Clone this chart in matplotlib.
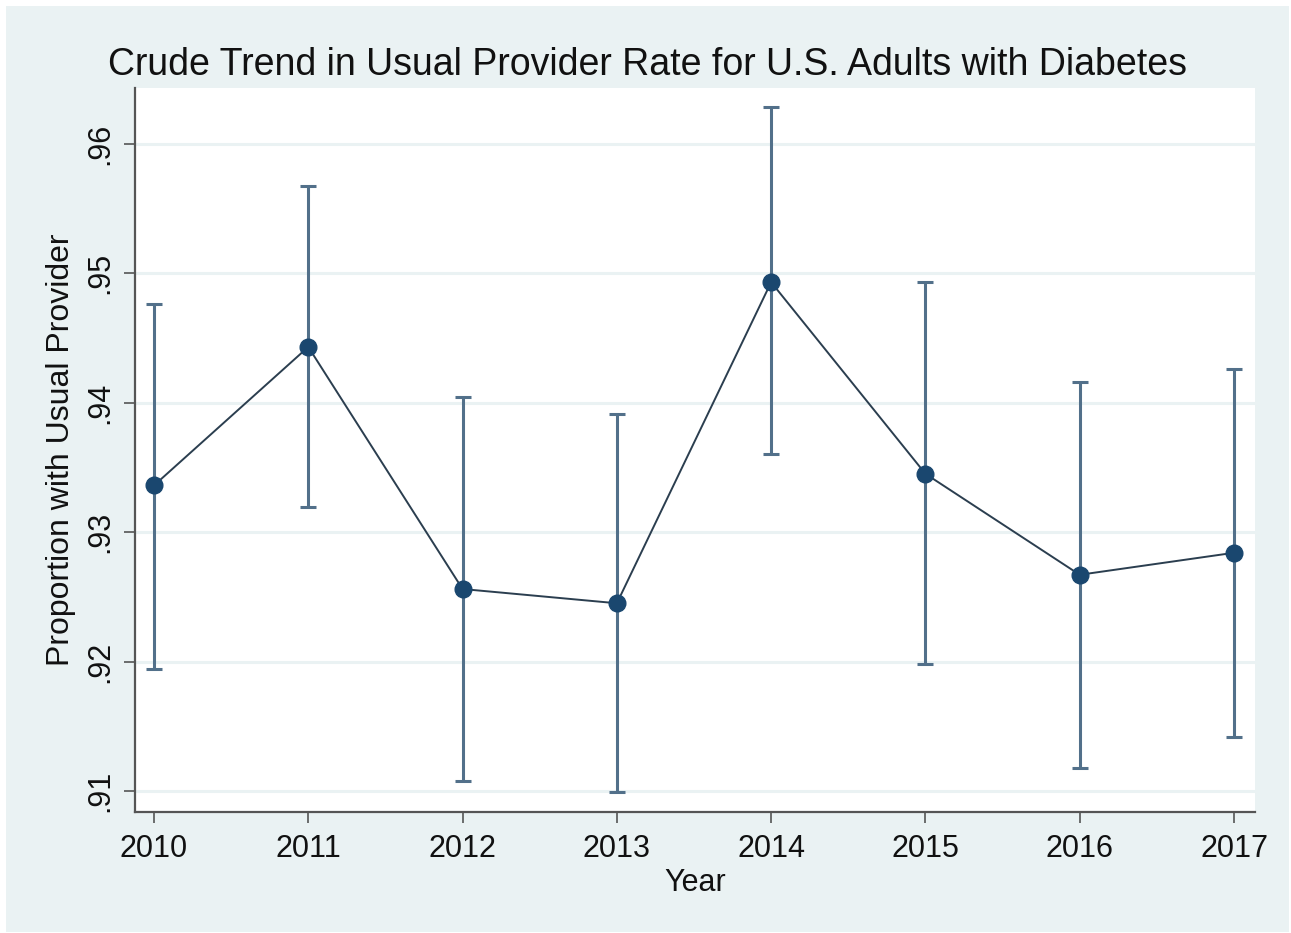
import numpy as np
import matplotlib.pyplot as plt
from matplotlib.ticker import FuncFormatter

years = [2010, 2011, 2012, 2013, 2014, 2015, 2016, 2017]
rate = [0.9336, 0.9443, 0.9256, 0.9245, 0.9493, 0.9345, 0.9267, 0.9284]
ci_low = [0.9194, 0.9319, 0.9108, 0.9099, 0.9360, 0.9198, 0.9118, 0.9142]
ci_high = [0.9476, 0.9567, 0.9404, 0.9391, 0.9628, 0.9493, 0.9416, 0.9426]
y_ticks = [0.91, 0.92, 0.93, 0.94, 0.95, 0.96]

plt.rcParams['font.family'] = ['Liberation Sans', 'DejaVu Sans']

bg = "#eaf2f3"
fig = plt.figure(figsize=(12.91, 9.33), dpi=100)
fig.patch.set_facecolor("white")
# stata-ish outer region
fig.patches.append(plt.Rectangle((6 / 1291, 1 - 932 / 933), 1283 / 1291, 926 / 933,
                                 transform=fig.transFigure, facecolor=bg, edgecolor="none", zorder=-5))

ax = fig.add_axes([135 / 1291, 1 - 811.7 / 933, (1255 - 135) / 1291, (811.7 - 88) / 933])
ax.set_facecolor("white")

rate = np.array(rate)
low = rate - np.array(ci_low)
high = np.array(ci_high) - rate

ax.errorbar(years, rate, yerr=[low, high], fmt="none", ecolor="#52708a", elinewidth=2.2,
            capsize=6, capthick=2.2, zorder=3)
ax.plot(years, rate, color="#2b3e4f", linewidth=1.4, zorder=4)
ax.plot(years, rate, "o", color="#1a476f", markersize=12, zorder=5)

ax.set_xlim(2009.877, 2017.136)
ax.set_ylim(0.9084, 0.9643)
ax.set_xticks(years)
ax.set_yticks(y_ticks)
ax.yaxis.set_major_formatter(FuncFormatter(lambda v, p: ("%.2f" % v)[1:]))
ax.grid(axis="y", color=bg, linewidth=2.2, zorder=1)
ax.set_axisbelow(True)

for s in ["top", "right"]:
    ax.spines[s].set_visible(False)
for s in ["left", "bottom"]:
    ax.spines[s].set_color("#555555")
    ax.spines[s].set_linewidth(1.6)

ax.tick_params(axis="both", length=8, width=1.2, color="#555555", labelsize=22, labelcolor="#111111")
ax.tick_params(axis="x", pad=8)
ax.tick_params(axis="y", pad=6)
for lab in ax.get_yticklabels():
    lab.set_rotation(90)
    lab.set_va("center")

ax.set_xlabel("Year", fontsize=22, color="#111111", labelpad=3)
ax.set_ylabel("Proportion with Usual Provider", fontsize=23, color="#111111", labelpad=7)
fig.text(647 / 1291, 1 - 65 / 933, "Crude Trend in Usual Provider Rate for U.S. Adults with Diabetes",
         ha="center", va="center", fontsize=27, color="#111111")

plt.savefig("out.png", dpi=100, facecolor=fig.get_facecolor())
